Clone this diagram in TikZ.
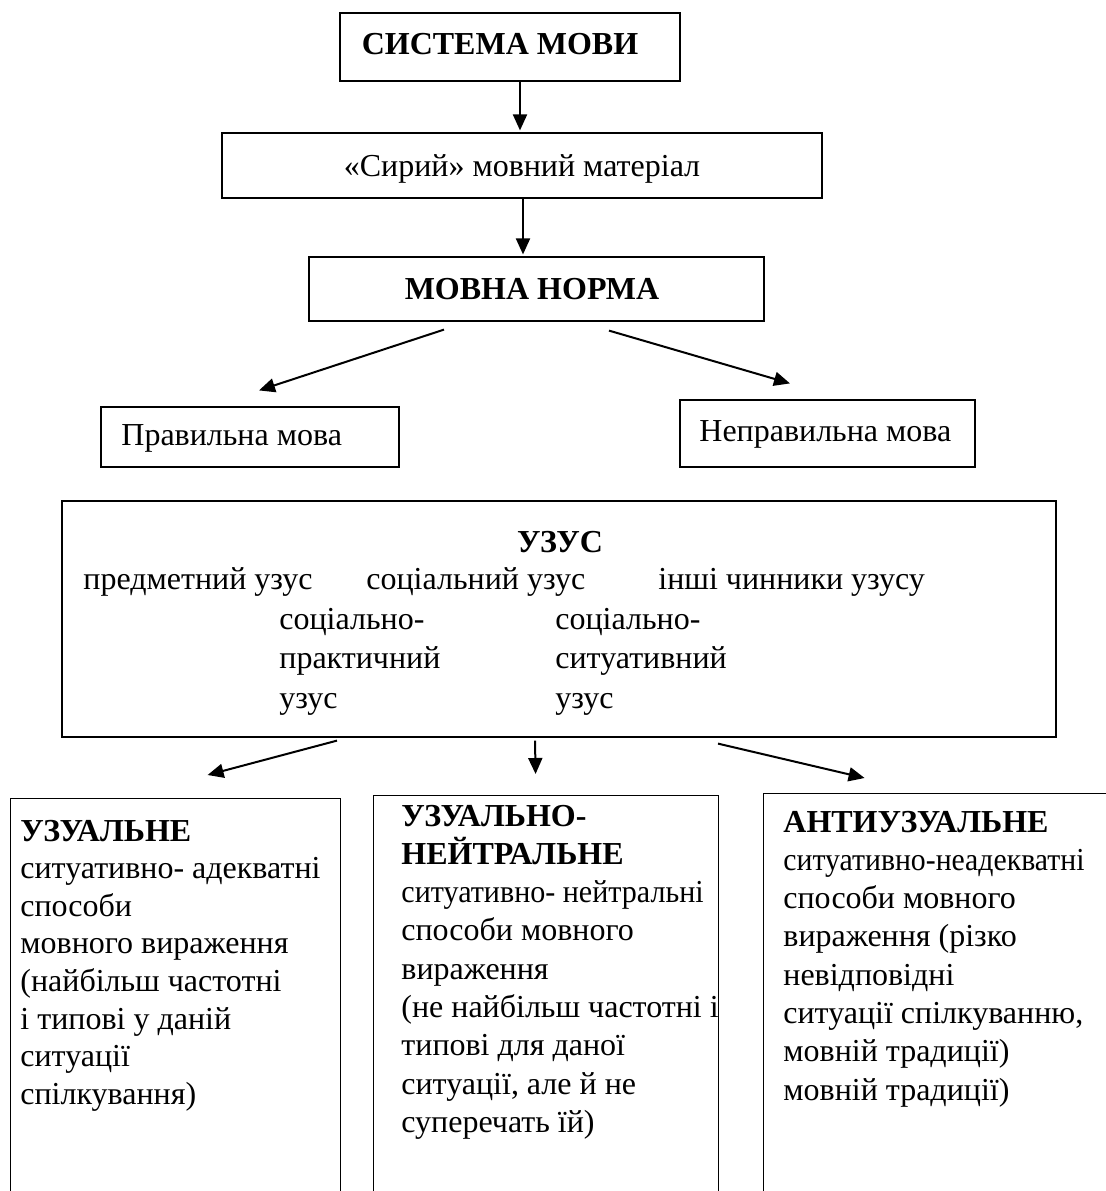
\documentclass[tikz,border=0pt]{standalone}
\usepackage{fontspec}
\usepackage{graphicx}
\setmainfont{Liberation Serif}
\usetikzlibrary{arrows.meta}
\begin{document}
\begin{tikzpicture}[x=0.5pt,y=-0.5pt,
  box/.style={draw,line width=0.6pt,inner sep=0pt},
  txt/.style={inner sep=0pt,font=\fontsize{16}{19}\selectfont},
  btxt/.style={inner sep=0pt,font=\fontsize{16}{19}\selectfont\bfseries},
  arr/.style={line width=1pt,-{Triangle[length=8pt,width=7pt]}}]
\useasboundingbox (0,0) rectangle (1106,1191);
\fill[white] (0,0) rectangle (1106,1191);
\clip (0,0) rectangle (1106,1191);

% top chain
\node[box,minimum width=170pt,minimum height=34pt] (sys) at (510,47) {};
\node[btxt,anchor=base] (systxt) at (500,54) {СИСТЕМА МОВИ};
\node[box,minimum width=300pt,minimum height=32.5pt] (raw) at (522,165.5) {};
\node[txt,anchor=base] (rawtxt) at (522,176) {«Сирий» мовний матеріал};
\node[box,minimum width=227.5pt,minimum height=32pt] (norm) at (536.5,289) {};
\node[btxt,anchor=base] (normtxt) at (532,299) {МОВНА НОРМА};

\node[box,minimum width=149pt,minimum height=30pt] (prav) at (250,437) {};
\node[txt,anchor=base west] (pravtxt) at (121,445) {Правильна мова};
\node[box,minimum width=147.5pt,minimum height=33.5pt] (neprav) at (827.5,433.5) {};
\node[txt,anchor=base west] (nepravtxt) at (699,441) {Неправильна мова};

% usus box
\node[box,minimum width=497pt,minimum height=118pt] (uzus) at (559,619) {};
\node[btxt,anchor=base] (uzustitle) at (560,552) {УЗУС};
\node[txt,anchor=base west] (u1) at (83,589) {предметний узус};
\node[txt,anchor=base west] (u2) at (366,589) {соціальний узус};
\node[txt,anchor=base west] (u3) at (658,589) {інші чинники узусу};
\node[txt,anchor=base west] (c11) at (279,629) {соціально-};
\node[txt,anchor=base west] (c12) at (279,668.5) {практичний};
\node[txt,anchor=base west] (c13) at (279,708) {узус};
\node[txt,anchor=base west] (c21) at (555,629) {соціально-};
\node[txt,anchor=base west] (c22) at (555,668.5) {ситуативний};
\node[txt,anchor=base west] (c23) at (555,708) {узус};

% bottom boxes
\node[box,minimum width=165pt,minimum height=225pt,anchor=north west] (b1) at (10,798) {};
\node[box,minimum width=172.5pt,minimum height=225pt,anchor=north west] (b2) at (373,795) {};
\node[box,minimum width=200pt,minimum height=225pt,anchor=north west] (b3) at (763,793) {};

\node[btxt,anchor=base west] (b1h) at (20,841) {УЗУАЛЬНЕ};
\foreach \t [count=\i] in {{ситуативно- адекватні},{способи},{мовного вираження},{(найбільш частотні},{і типові у даній},{ситуації},{спілкування)}}
  \node[txt,anchor=base west] (b1l\i) at (20,841+37.6*\i) {\t};

\node[btxt,anchor=base west] (b2h1) at (401,826) {УЗУАЛЬНО-};
\node[btxt,anchor=base west] (b2h2) at (401,864.3) {НЕЙТРАЛЬНЕ};
\node[txt,anchor=base west] (b2l1) at (401,902.6) {\scalebox{0.94}[1]{ситуативно- нейтральні}};
\foreach \t [count=\i from 2] in {{способи мовного},{вираження},{(не найбільш частотні і},{типові для даної},{ситуації, але й не},{суперечать їй)}}
  \node[txt,anchor=base west] (b2l\i) at (401,864.3+38.3*\i) {\t};

\node[btxt,anchor=base west] (b3h) at (783,832) {АНТИУЗУАЛЬНЕ};
\node[txt,anchor=base west] (b3l1) at (783,870.3) {\scalebox{0.93}[1]{ситуативно-неадекватні}};
\foreach \t [count=\i from 2] in {{способи мовного},{вираження (різко},{невідповідні},{ситуації спілкуванню,},{мовній традиції)},{мовній традиції)}}
  \node[txt,anchor=base west] (b3l\i) at (783,832+38.3*\i) {\t};

% connectors
\draw[arr] ([shift={(10,0)}]sys.south) -- ([shift={(-2,-2)}]raw.north);
\draw[arr] ([shift={(1,0)}]raw.south) -- ([shift={(-13.5,-2)}]norm.north);
\draw[arr] ([shift={(-92.5,8)}]norm.south) -- ([shift={(9,-16)}]prav.north);
\draw[arr] ([shift={(72.5,9)}]norm.south) -- ([shift={(-37.5,-16)}]neprav.north);
\draw[arr] ([shift={(-222,3)}]uzus.south) -- ([shift={(32,-23)}]b1.north);
\draw[arr] ([shift={(-24,3)}]uzus.south) -- ([shift={(-10.5,-21)}]b2.north);
\draw[arr] ([shift={(159,6)}]uzus.south) -- ([shift={(-99,-15)}]b3.north);
\end{tikzpicture}
\end{document}
